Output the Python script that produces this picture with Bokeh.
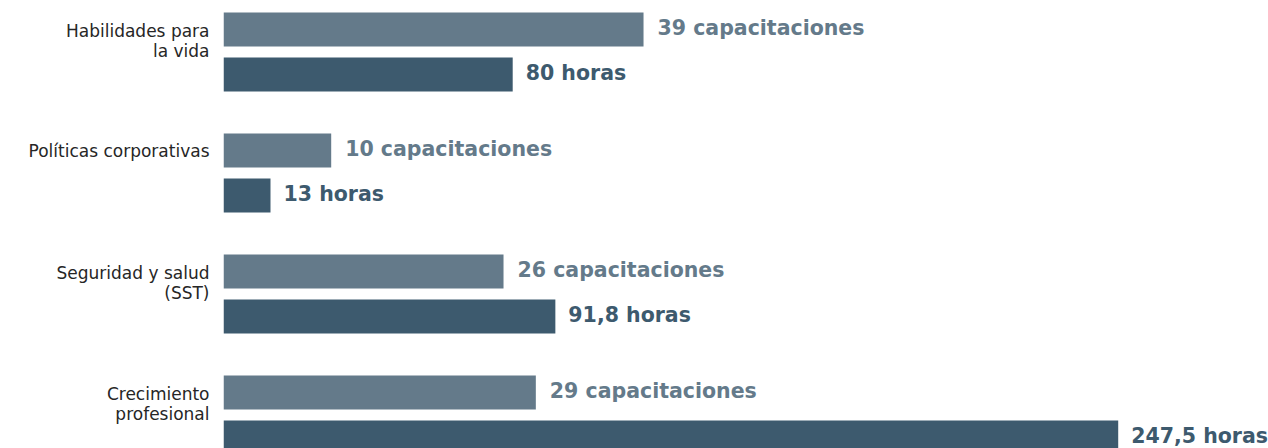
from bokeh.plotting import figure
from bokeh.models import Range1d, FixedTicker, ColumnDataSource
from bokeh.transform import dodge
from bokeh.core.properties import value
from bokeh.embed import file_html
from bokeh.resources import INLINE

# ---- data ----
categories = ["Habilidades para\nla vida", "Políticas corporativas",
              "Seguridad y salud\n(SST)", "Crecimiento\nprofesional"]
capacitaciones = [39, 10, 26, 29]
horas = [80, 13, 91.8, 247.5]
cap_labels = ["39 capacitaciones", "10 capacitaciones", "26 capacitaciones", "29 capacitaciones"]
horas_labels = ["80 horas", "13 horas", "91,8 horas", "247,5 horas"]

# ---- layout helpers ----
STEP = 121
ypos = [i * STEP for i in range(len(categories))]
LIGHT = "#647a8a"
DARK = "#3d5a6e"
FONT = "DejaVu Sans"

src = ColumnDataSource(dict(y=ypos, cap=capacitaciones, horas=horas,
                            cap_label=cap_labels, horas_label=horas_labels))

W, H = 1268, 448
LEFT = 223
frame_w = W - LEFT
TOP_OFF = 51.5
p = figure(width=W, height=H, output_backend="svg", toolbar_location=None,
           x_range=Range1d(0, frame_w / 3.615),
           y_range=Range1d(start=H - TOP_OFF, end=-TOP_OFF),
           x_axis_location=None, min_border_left=LEFT, min_border_right=0,
           min_border_top=0, min_border_bottom=0)
p.extra_x_ranges = {"cap": Range1d(0, frame_w / 10.77)}
p.outline_line_color = None
p.grid.visible = False
p.background_fill_color = "white"

p.hbar(y=dodge("y", -22.5, range=p.y_range), right="cap", left=0, height=34,
       x_range_name="cap", source=src, fill_color=LIGHT, line_color=None)
p.hbar(y=dodge("y", 22.5, range=p.y_range), right="horas", left=0, height=34,
       source=src, fill_color=DARK, line_color=None)

p.text(x="cap", y=dodge("y", -24, range=p.y_range), text="cap_label", source=src,
       x_range_name="cap", x_offset=14, text_baseline="middle", text_align="left",
       text_font=value(FONT), text_font_style="bold", text_font_size="20.5px",
       text_color=LIGHT)
p.text(x="horas", y=dodge("y", 20.5, range=p.y_range), text="horas_label", source=src,
       x_offset=13, text_baseline="middle", text_align="left",
       text_font=value(FONT), text_font_style="bold", text_font_size="20.5px",
       text_color=DARK)

# category labels: one tick per text line so each line is right-aligned
ticks = []
overrides = {}
for yy, cat in zip(ypos, categories):
    lines = cat.split("\n")
    if len(lines) == 1:
        offs = [-22]
    else:
        offs = [-21 + 20 * k for k in range(len(lines))]
    for off, line in zip(offs, lines):
        t = yy + off
        ticks.append(t)
        overrides[t] = line
ax = p.yaxis[0]
ax.ticker = FixedTicker(ticks=ticks)
ax.major_label_overrides = overrides
ax.axis_line_color = None
ax.major_tick_line_color = None
ax.minor_tick_line_color = None
ax.major_tick_out = 0
ax.major_tick_in = 0
ax.major_label_standoff = 14
ax.major_label_text_font = FONT
ax.major_label_text_font_size = "17px"
ax.major_label_text_color = "#262626"

open("out.html", "w").write(file_html(p, INLINE))
